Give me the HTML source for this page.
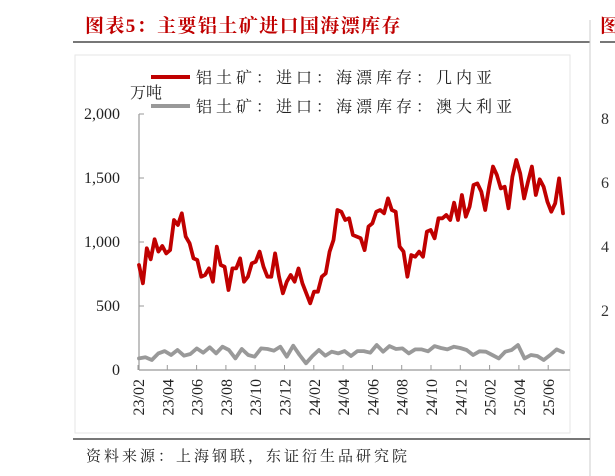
<!DOCTYPE html>
<html><head><meta charset="utf-8"><style>
body{margin:0;background:#fff;width:615px;height:476px;overflow:hidden}
svg{display:block}
</style></head><body>
<svg width="615" height="476" font-family="'Liberation Serif','Noto Serif CJK SC',serif">
<text x="85" y="32" fill="#c00000" font-size="19" font-weight="bold" letter-spacing="1.4" font-family="'Liberation Serif','Noto Serif CJK SC',serif">图表5：主要铝土矿进口国海漂库存</text>
<line x1="73" y1="42" x2="590" y2="42" stroke="#777" stroke-width="2"/>
<line x1="590" y1="20" x2="590" y2="476" stroke="#ccc" stroke-width="1"/>
<line x1="600" y1="42" x2="615" y2="42" stroke="#777" stroke-width="2"/>
<text x="600" y="32" fill="#c00000" font-size="19" font-weight="bold">图</text>
<rect x="75" y="55" width="495" height="378" fill="none" stroke="#e6e6e6"/>
<g font-size="16" fill="#333">
<text x="601" y="124">8</text><text x="601" y="188">6</text><text x="601" y="252">4</text><text x="601" y="316">2</text></g>
<text x="130" y="98" font-size="16" fill="#222">万吨</text>
<g>
<line x1="151" y1="77" x2="190" y2="77" stroke="#c00000" stroke-width="4"/>
<text x="196" y="83" font-size="16" letter-spacing="4" fill="#222">铝土矿：进口：海漂库存：几内亚</text>
<line x1="151" y1="106" x2="190" y2="106" stroke="#999" stroke-width="4"/>
<text x="196" y="112" font-size="16" letter-spacing="4" fill="#222">铝土矿：进口：海漂库存：澳大利亚</text>
</g>
<g id="plot"></g>
<line x1="73" y1="439" x2="590" y2="439" stroke="#777" stroke-width="2"/>
<text x="86" y="461" font-size="15" letter-spacing="3" fill="#222">资料来源：上海钢联，东证衍生品研究院</text>
</svg>
<script>
const yTicks=[0,500,1000,1500,2000];
const yTickLabels=["0","500","1,000","1,500","2,000"];
const xTickLabels=["23/02","23/04","23/06","23/08","23/10","23/12","24/02","24/04","24/06","24/08","24/10","24/12","25/02","25/04","25/06"];
const guinea=[820,677,951,865,1021,925,969,911,937,1172,1133,1224,1042,990,872,859,729,742,794,690,964,820,807,625,794,794,872,690,729,833,846,925,807,729,729,911,729,599,690,742,690,794,677,599,521,612,612,729,755,925,1016,1250,1237,1172,1185,1055,1042,1029,937,1120,1146,1237,1250,1224,1341,1250,1237,964,925,729,898,885,925,885,1081,1094,1029,1185,1185,1211,1172,1307,1172,1367,1198,1276,1445,1458,1393,1250,1432,1589,1523,1419,1432,1263,1510,1641,1536,1341,1471,1589,1367,1490,1432,1315,1237,1302,1497,1224];
const australia=[91,99,78,130,148,117,156,112,125,169,135,177,130,182,156,91,164,117,104,169,164,151,182,104,190,117,52,109,156,112,143,130,148,109,148,148,135,195,143,187,164,169,130,161,161,146,187,172,161,182,172,156,117,146,143,117,91,143,156,195,91,117,109,78,117,161,138];
const ns="http://www.w3.org/2000/svg";
const plot=document.getElementById('plot');
const X0=139,X1=563,Y0=370,Y1=114,MONTH=14.65,TICK0=138;
const yS=v=>Y0-(v-0)/(2000)*(Y0-Y1);
const xMonth=m=>TICK0+m*MONTH;
const span=(X1-X0);
const xIdx=(i,n)=>X0+i/(n-1)*span;
function mk(t,a){const e=document.createElementNS(ns,t);for(const k in a)e.setAttribute(k,a[k]);plot.appendChild(e);return e;}
const yAxis=mk('line',{x1:X0,y1:Y1,x2:X0,y2:Y0,stroke:'#999','stroke-width':1.2});


const xAxis=mk('line',{x1:X0,y1:Y0,x2:570,y2:Y0,stroke:'#999','stroke-width':1.2});


yTicks.forEach((v,i)=>{
 const t=mk('line',{x1:X0,y1:yS(v),x2:X0+5,y2:yS(v),stroke:'#999'});
 
 
 const l=mk('text',{x:X0-19,y:yS(v)+5,'text-anchor':'end','font-size':16,fill:'#222'});
 l.textContent=yTickLabels[i];
 
 
});
xTickLabels.forEach((s,i)=>{
 const x=xMonth(i*2);
 const t=mk('line',{x1:x,y1:Y0,x2:x,y2:Y0-5,stroke:'#999'});
 
 
 const l=mk('text',{x:0,y:0,'text-anchor':'end','font-size':16,fill:'#222',transform:`translate(${x+6},${Y0+9}) rotate(-90)`});
 l.textContent=s;
 
 
});
function series(arr,color,name){
 const d=arr.map((v,i)=>(i?'L':'M')+xIdx(i,arr.length).toFixed(1)+','+yS(v).toFixed(1)).join(' ');
 const p=mk('path',{d:d,fill:'none',stroke:color,'stroke-width':3.8,'stroke-linejoin':'round','stroke-linecap':'round'});
 
 
}
series(australia,'#999','line-australia');
series(guinea,'#c00000','line-guinea');
</script>
</body></html>
